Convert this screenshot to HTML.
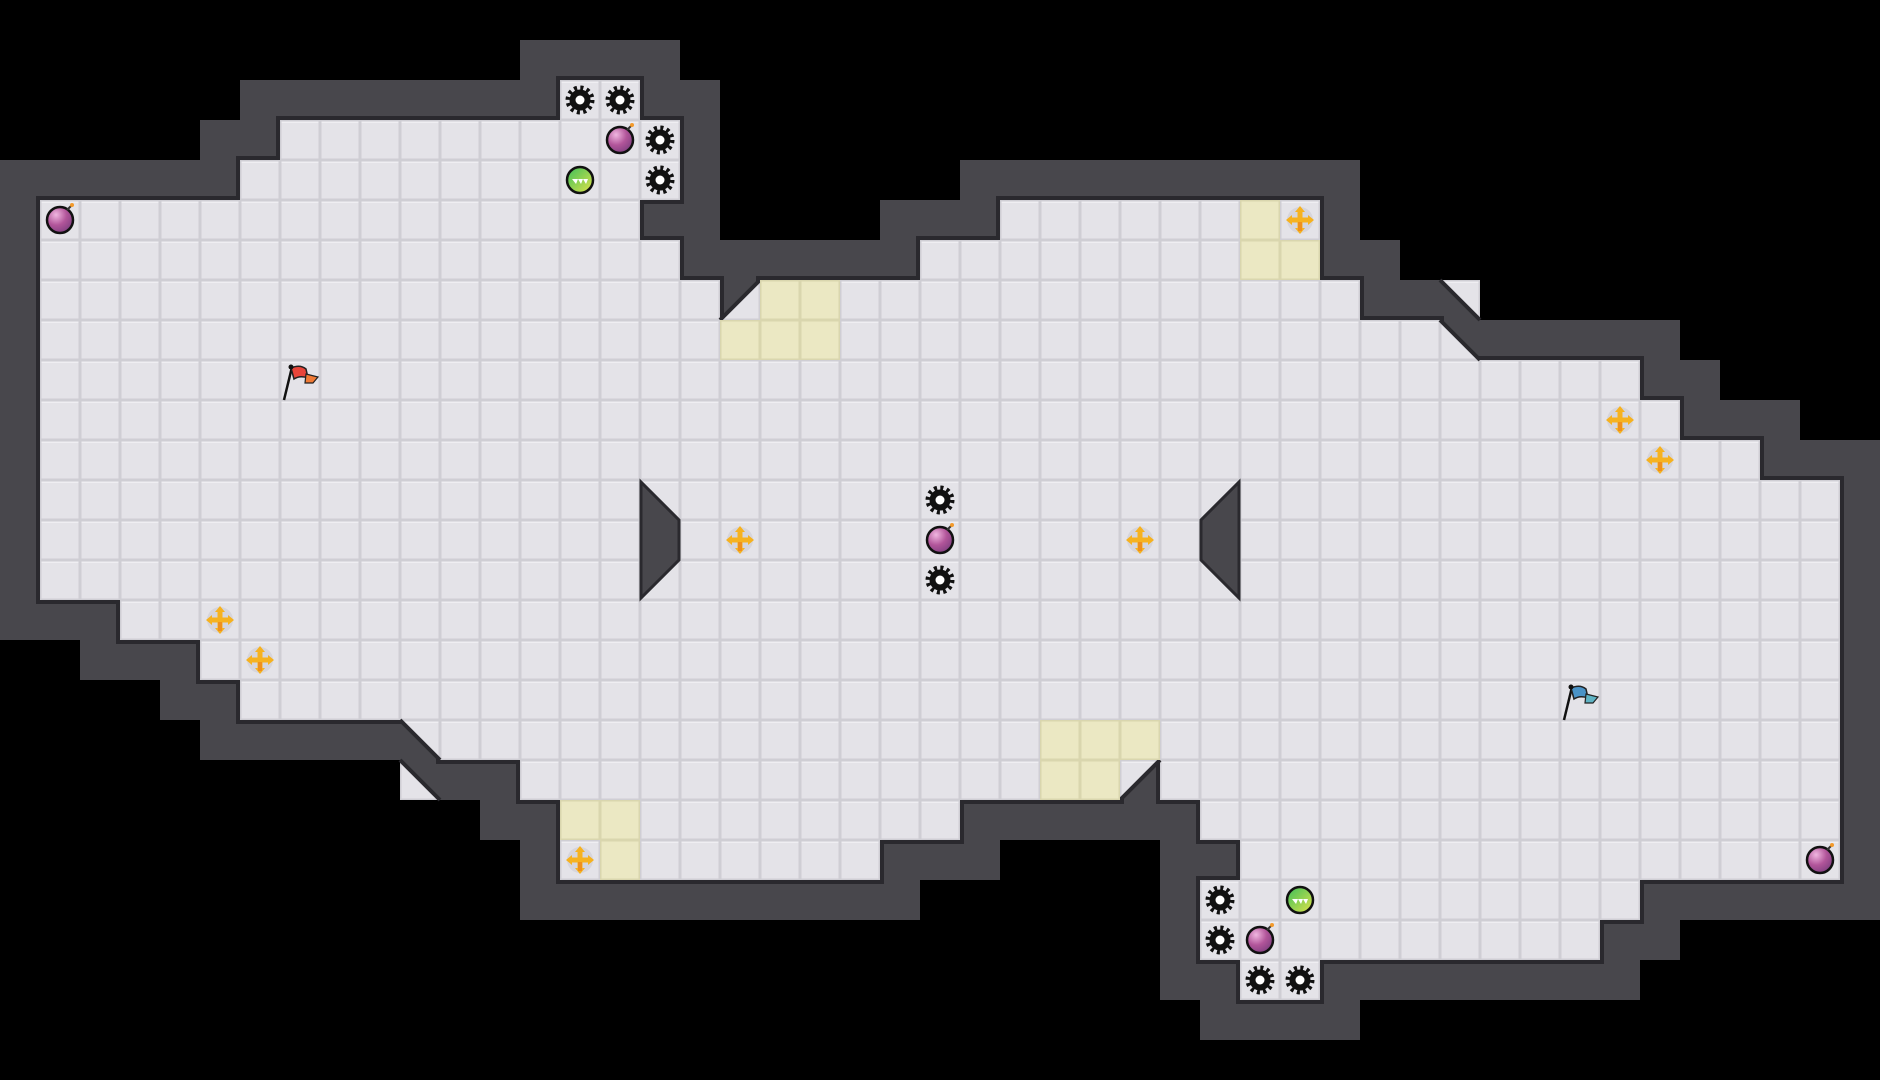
<!DOCTYPE html>
<html><head><meta charset="utf-8"><style>html,body{margin:0;padding:0;background:#000;}svg{display:block}</style></head>
<body>
<svg width="1880" height="1080" viewBox="0 0 1880 1080" xmlns="http://www.w3.org/2000/svg">
<defs>
<pattern id="t" patternUnits="userSpaceOnUse" x="0" y="0" width="40" height="40">
<rect width="40" height="40" fill="#cfced4"/><rect x="1.5" y="1.5" width="37" height="37" fill="#e4e3e8"/><rect x="1.5" y="1.5" width="37" height="1.5" fill="#efeef2"/>
</pattern>
<pattern id="y" patternUnits="userSpaceOnUse" x="0" y="0" width="40" height="40">
<rect width="40" height="40" fill="#d9d6ae"/><rect x="1.5" y="1.5" width="37" height="37" fill="#ebe8c3"/>
</pattern>
<g id="gear"><circle r="10.5" fill="#111"/><circle r="12" fill="none" stroke="#111" stroke-width="5" stroke-dasharray="3 3.28"/><circle r="4.5" fill="#fff"/></g>
<radialGradient id="bg" cx="0.35" cy="0.3" r="0.8"><stop offset="0" stop-color="#f0b6e0"/><stop offset="0.5" stop-color="#b2559a"/><stop offset="1" stop-color="#7a3d7e"/></radialGradient>
<g id="bomb"><circle r="13" fill="url(#bg)" stroke="#111" stroke-width="2.5"/><path d="M7,-10 L11,-14" stroke="#333" stroke-width="2"/><circle cx="12" cy="-15" r="2" fill="#f39a2b"/></g>
<linearGradient id="gg" x1="0" y1="0" x2="1" y2="1"><stop offset="0" stop-color="#3bbf5a"/><stop offset="1" stop-color="#e2e34a"/></linearGradient>
<g id="green"><circle r="13" fill="url(#gg)" stroke="#111" stroke-width="2.5"/><path d="M-8,-1 L-4,4 L-2,-1 L1,4 L3,-1 L6,4 L8,-1 Z" fill="#fff"/></g>
<g id="plus"><circle r="13" fill="#d6d5dc"/><g fill="#f6b21f"><rect x="-2.5" y="-10" width="5" height="20"/><rect x="-10" y="-2.5" width="20" height="5"/><path d="M0,-14 L-5,-8 L5,-8Z M0,14 L-5,8 L5,8Z M-14,0 L-8,-5 L-8,5Z M14,0 L8,-5 L8,5Z"/></g><rect x="-2" y="2" width="4" height="9" fill="#f0901c"/></g>
</defs>

<g fill="#48474c">
<rect x="520" y="40" width="160" height="120"/>
<rect x="240" y="80" width="480" height="120"/>
<rect x="200" y="120" width="520" height="120"/>
<rect x="0" y="160" width="680" height="120"/>
<rect x="960" y="160" width="400" height="120"/>
<rect x="0" y="200" width="720" height="120"/>
<rect x="880" y="200" width="480" height="120"/>
<rect x="0" y="240" width="760" height="120"/>
<rect x="720" y="240" width="680" height="120"/>
<rect x="0" y="280" width="1480" height="120"/>
<rect x="0" y="320" width="1680" height="120"/>
<rect x="0" y="360" width="1720" height="120"/>
<rect x="0" y="400" width="1800" height="120"/>
<rect x="0" y="440" width="1880" height="200"/>
<rect x="80" y="560" width="1800" height="120"/>
<rect x="160" y="600" width="1720" height="120"/>
<rect x="200" y="640" width="1680" height="120"/>
<rect x="400" y="680" width="1480" height="120"/>
<rect x="480" y="720" width="680" height="120"/>
<rect x="1120" y="720" width="760" height="120"/>
<rect x="520" y="760" width="480" height="120"/>
<rect x="1160" y="760" width="720" height="120"/>
<rect x="520" y="800" width="400" height="120"/>
<rect x="1200" y="800" width="680" height="120"/>
<rect x="1160" y="840" width="520" height="120"/>
<rect x="1160" y="880" width="480" height="120"/>
<rect x="1200" y="920" width="160" height="120"/>
</g>

<g fill="#2a292e">
<rect x="556" y="76" width="88" height="48"/>
<rect x="276" y="116" width="408" height="48"/>
<rect x="236" y="156" width="448" height="48"/>
<rect x="36" y="196" width="608" height="48"/>
<rect x="996" y="196" width="328" height="48"/>
<rect x="36" y="236" width="648" height="48"/>
<rect x="916" y="236" width="408" height="48"/>
<rect x="36" y="276" width="688" height="48"/>
<rect x="756" y="276" width="608" height="48"/>
<rect x="36" y="316" width="1408" height="48"/>
<rect x="36" y="356" width="1608" height="48"/>
<rect x="36" y="396" width="1648" height="48"/>
<rect x="36" y="436" width="1728" height="48"/>
<rect x="36" y="476" width="1808" height="128"/>
<rect x="116" y="596" width="1728" height="48"/>
<rect x="196" y="636" width="1648" height="48"/>
<rect x="236" y="676" width="1608" height="48"/>
<rect x="436" y="716" width="1408" height="48"/>
<rect x="516" y="756" width="608" height="48"/>
<rect x="1156" y="756" width="688" height="48"/>
<rect x="556" y="796" width="408" height="48"/>
<rect x="1196" y="796" width="648" height="48"/>
<rect x="556" y="836" width="328" height="48"/>
<rect x="1236" y="836" width="608" height="48"/>
<rect x="1196" y="876" width="448" height="48"/>
<rect x="1196" y="916" width="408" height="48"/>
<rect x="1236" y="956" width="88" height="48"/>
</g>

<g fill="url(#t)">
<rect x="560" y="80" width="80" height="40"/>
<rect x="280" y="120" width="400" height="40"/>
<rect x="240" y="160" width="440" height="40"/>
<rect x="40" y="200" width="600" height="40"/>
<rect x="1000" y="200" width="320" height="40"/>
<rect x="40" y="240" width="640" height="40"/>
<rect x="920" y="240" width="400" height="40"/>
<rect x="40" y="280" width="680" height="40"/>
<rect x="760" y="280" width="600" height="40"/>
<rect x="40" y="320" width="1400" height="40"/>
<rect x="40" y="360" width="1600" height="40"/>
<rect x="40" y="400" width="1640" height="40"/>
<rect x="40" y="440" width="1720" height="40"/>
<rect x="40" y="480" width="1800" height="120"/>
<rect x="120" y="600" width="1720" height="40"/>
<rect x="200" y="640" width="1640" height="40"/>
<rect x="240" y="680" width="1600" height="40"/>
<rect x="440" y="720" width="1400" height="40"/>
<rect x="520" y="760" width="600" height="40"/>
<rect x="1160" y="760" width="680" height="40"/>
<rect x="560" y="800" width="400" height="40"/>
<rect x="1200" y="800" width="640" height="40"/>
<rect x="560" y="840" width="320" height="40"/>
<rect x="1240" y="840" width="600" height="40"/>
<rect x="1200" y="880" width="440" height="40"/>
<rect x="1200" y="920" width="400" height="40"/>
<rect x="1240" y="960" width="80" height="40"/>
<!-- diagonal floor pieces -->
<polygon points="760,280 760,320 720,320"/>
<polygon points="1440,280 1480,280 1480,320"/>
<polygon points="1440,320 1440,360 1480,360"/>
<polygon points="400,720 440,720 440,760"/>
<polygon points="400,760 400,800 440,800"/>
<polygon points="1120,760 1160,760 1120,800"/>
</g>
<g stroke="#2a292e" stroke-width="4">
<line x1="720" y1="320" x2="760" y2="280"/>
<line x1="1440" y1="280" x2="1480" y2="320"/>
<line x1="1440" y1="320" x2="1480" y2="360"/>
<line x1="400" y1="720" x2="440" y2="760"/>
<line x1="400" y1="760" x2="440" y2="800"/>
<line x1="1160" y1="760" x2="1120" y2="800"/>
</g>

<g fill="url(#y)">
<rect x="1240" y="200" width="40" height="40"/>
<rect x="1240" y="240" width="80" height="40"/>
<rect x="760" y="280" width="80" height="40"/>
<rect x="720" y="320" width="120" height="40"/>
<rect x="1040" y="720" width="120" height="40"/>
<rect x="1040" y="760" width="80" height="40"/>
<rect x="560" y="800" width="80" height="40"/>
<rect x="600" y="840" width="40" height="40"/>
</g>

<polygon points="641,482 679,520 679,560 641,598" fill="#48474c" stroke="#2a292e" stroke-width="3"/>
<polygon points="1239,482 1201,520 1201,560 1239,598" fill="#48474c" stroke="#2a292e" stroke-width="3"/>

<use href="#gear" x="580" y="100"/><use href="#gear" x="620" y="100"/>
<use href="#gear" x="660" y="140"/><use href="#gear" x="660" y="180"/>
<use href="#gear" x="940" y="500"/><use href="#gear" x="940" y="580"/>
<use href="#gear" x="1220" y="900"/><use href="#gear" x="1220" y="940"/>
<use href="#gear" x="1260" y="980"/><use href="#gear" x="1300" y="980"/>

<use href="#bomb" x="620" y="140"/><use href="#bomb" x="60" y="220"/>
<use href="#bomb" x="940" y="540"/><use href="#bomb" x="1820" y="860"/>
<use href="#bomb" x="1260" y="940"/>

<use href="#green" x="580" y="180"/><use href="#green" x="1300" y="900"/>

<use href="#plus" x="1300" y="220"/><use href="#plus" x="1620" y="420"/>
<use href="#plus" x="1660" y="460"/><use href="#plus" x="740" y="540"/>
<use href="#plus" x="1140" y="540"/><use href="#plus" x="220" y="620"/>
<use href="#plus" x="260" y="660"/><use href="#plus" x="580" y="860"/>

<g transform="translate(300,380)">
<line x1="-16" y1="20" x2="-8" y2="-13" stroke="#111" stroke-width="2.5"/>
<path d="M-9,-12 Q0,-16 6,-11 L8,-2 Q0,-5 -6,-1 Z" fill="#e8453a" stroke="#222" stroke-width="1.5"/>
<path d="M6,-6 L18,-3 L13,3 L5,3 Z" fill="#f07a35" stroke="#222" stroke-width="1.2"/>
<circle cx="-9" cy="-13" r="2.5" fill="#111"/>
</g>
<g transform="translate(1580,700)">
<line x1="-16" y1="20" x2="-8" y2="-13" stroke="#111" stroke-width="2.5"/>
<path d="M-9,-12 Q0,-16 6,-11 L8,-2 Q0,-5 -6,-1 Z" fill="#4a93c7" stroke="#222" stroke-width="1.5"/>
<path d="M6,-6 L18,-3 L13,3 L5,3 Z" fill="#5fb3c4" stroke="#222" stroke-width="1.2"/>
<circle cx="-9" cy="-13" r="2.5" fill="#111"/>
</g>
</svg>
</body></html>
